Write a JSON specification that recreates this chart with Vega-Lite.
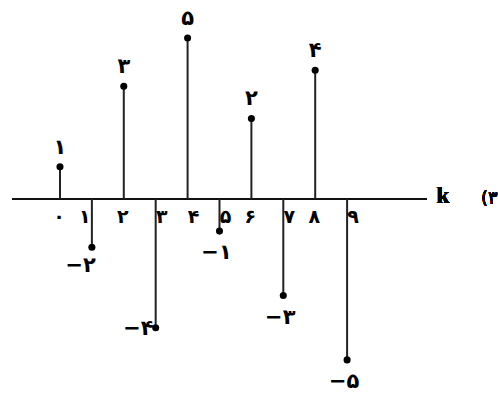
{
  "$schema": "https://vega.github.io/schema/vega-lite/v6.json",
  "width": 498,
  "height": 394,
  "padding": 0,
  "autosize": {"type": "fit", "contains": "padding"},
  "background": "white",
  "config": {"view": {"stroke": null}},
  "data": {
    "values": [
      {"k": 0, "height": 1, "label": "۱", "tick": "۰"},
      {"k": 1, "height": -1.5, "label": "−۲", "tick": "۱"},
      {"k": 2, "height": 3.5, "label": "۳", "tick": "۲"},
      {"k": 3, "height": -4, "label": "−۴", "tick": "۳"},
      {"k": 4, "height": 5, "label": "۵", "tick": "۴"},
      {"k": 5, "height": -1, "label": "−۱", "tick": "۵"},
      {"k": 6, "height": 2.5, "label": "۲", "tick": "۶"},
      {"k": 7, "height": -3, "label": "−۳", "tick": "۷"},
      {"k": 8, "height": 4, "label": "۴", "tick": "۸"},
      {"k": 9, "height": -5, "label": "−۵", "tick": "۹"}
    ]
  },
  "layer": [
    {
      "mark": {"type": "rule", "color": "#111", "strokeWidth": 2},
      "encoding": {
        "x": {"datum": -1.5, "type": "quantitative", "scale": {"domain": [-1.88, 13.73], "nice": false, "zero": false}, "axis": null},
        "x2": {"datum": 11.5},
        "y": {"datum": 0, "type": "quantitative", "scale": {"domain": [-6.06, 6.18], "nice": false, "zero": false}, "axis": null}
      }
    },
    {
      "mark": {"type": "rule", "color": "#222", "strokeWidth": 2},
      "encoding": {
        "x": {"field": "k", "type": "quantitative", "scale": {"domain": [-1.88, 13.73], "nice": false, "zero": false}, "axis": null},
        "y": {"field": "height", "type": "quantitative", "scale": {"domain": [-6.06, 6.18], "nice": false, "zero": false}, "axis": null},
        "y2": {"datum": 0}
      }
    },
    {
      "mark": {"type": "circle", "color": "#000", "opacity": 1, "size": 50},
      "encoding": {
        "x": {"field": "k", "type": "quantitative", "scale": {"domain": [-1.88, 13.73], "nice": false, "zero": false}, "axis": null},
        "y": {"field": "height", "type": "quantitative", "scale": {"domain": [-6.06, 6.18], "nice": false, "zero": false}, "axis": null}
      }
    },
    {
      "transform": [{"filter": "datum.height > 0"}],
      "mark": {"type": "text", "font": "DejaVu Sans", "fontSize": 21, "fontWeight": "bold", "color": "#000", "baseline": "middle", "align": "center", "dy": -19},
      "encoding": {
        "x": {"field": "k", "type": "quantitative", "scale": {"domain": [-1.88, 13.73], "nice": false, "zero": false}, "axis": null},
        "y": {"field": "height", "type": "quantitative", "scale": {"domain": [-6.06, 6.18], "nice": false, "zero": false}, "axis": null},
        "text": {"field": "label"}
      }
    },
    {
      "transform": [{"filter": "datum.k == 1"}],
      "mark": {"type": "text", "font": "DejaVu Sans", "fontSize": 21, "fontWeight": "bold", "color": "#000", "baseline": "middle", "align": "right", "dx": 4, "dy": 19},
      "encoding": {
        "x": {"field": "k", "type": "quantitative", "scale": {"domain": [-1.88, 13.73], "nice": false, "zero": false}, "axis": null},
        "y": {"field": "height", "type": "quantitative", "scale": {"domain": [-6.06, 6.18], "nice": false, "zero": false}, "axis": null},
        "text": {"field": "label"}
      }
    },
    {
      "transform": [{"filter": "datum.k == 3"}],
      "mark": {"type": "text", "font": "DejaVu Sans", "fontSize": 21, "fontWeight": "bold", "color": "#000", "baseline": "middle", "align": "right", "dx": -2, "dy": 1},
      "encoding": {
        "x": {"field": "k", "type": "quantitative", "scale": {"domain": [-1.88, 13.73], "nice": false, "zero": false}, "axis": null},
        "y": {"field": "height", "type": "quantitative", "scale": {"domain": [-6.06, 6.18], "nice": false, "zero": false}, "axis": null},
        "text": {"field": "label"}
      }
    },
    {
      "transform": [{"filter": "datum.k == 5 || datum.k == 7 || datum.k == 9"}],
      "mark": {"type": "text", "font": "DejaVu Sans", "fontSize": 21, "fontWeight": "bold", "color": "#000", "baseline": "middle", "align": "center", "dx": -3, "dy": 22},
      "encoding": {
        "x": {"field": "k", "type": "quantitative", "scale": {"domain": [-1.88, 13.73], "nice": false, "zero": false}, "axis": null},
        "y": {"field": "height", "type": "quantitative", "scale": {"domain": [-6.06, 6.18], "nice": false, "zero": false}, "axis": null},
        "text": {"field": "label"}
      }
    },
    {
      "transform": [{"filter": "datum.k == 0 || datum.k == 2 || datum.k == 6 || datum.k == 8"}],
      "mark": {"type": "text", "font": "DejaVu Sans", "fontSize": 19, "fontWeight": "bold", "color": "#000", "baseline": "middle", "align": "center", "dx": -1, "dy": 18},
      "encoding": {
        "x": {"field": "k", "type": "quantitative", "scale": {"domain": [-1.88, 13.73], "nice": false, "zero": false}, "axis": null},
        "y": {"datum": 0, "type": "quantitative", "scale": {"domain": [-6.06, 6.18], "nice": false, "zero": false}, "axis": null},
        "text": {"field": "tick"}
      }
    },
    {
      "transform": [{"filter": "datum.k == 1"}],
      "mark": {"type": "text", "font": "DejaVu Sans", "fontSize": 19, "fontWeight": "bold", "color": "#000", "baseline": "middle", "align": "center", "dx": -7, "dy": 18},
      "encoding": {
        "x": {"field": "k", "type": "quantitative", "scale": {"domain": [-1.88, 13.73], "nice": false, "zero": false}, "axis": null},
        "y": {"datum": 0, "type": "quantitative", "scale": {"domain": [-6.06, 6.18], "nice": false, "zero": false}, "axis": null},
        "text": {"field": "tick"}
      }
    },
    {
      "transform": [{"filter": "datum.k == 3 || datum.k == 4 || datum.k == 5 || datum.k == 7 || datum.k == 9"}],
      "mark": {"type": "text", "font": "DejaVu Sans", "fontSize": 19, "fontWeight": "bold", "color": "#000", "baseline": "middle", "align": "center", "dx": 6, "dy": 18},
      "encoding": {
        "x": {"field": "k", "type": "quantitative", "scale": {"domain": [-1.88, 13.73], "nice": false, "zero": false}, "axis": null},
        "y": {"datum": 0, "type": "quantitative", "scale": {"domain": [-6.06, 6.18], "nice": false, "zero": false}, "axis": null},
        "text": {"field": "tick"}
      }
    },
    {
      "mark": {"type": "text", "font": "Liberation Serif", "fontSize": 23, "fontWeight": "bold", "color": "#000", "baseline": "middle", "align": "center", "dy": -3},
      "encoding": {
        "x": {"datum": 12, "type": "quantitative", "scale": {"domain": [-1.88, 13.73], "nice": false, "zero": false}, "axis": null},
        "y": {"datum": 0, "type": "quantitative", "scale": {"domain": [-6.06, 6.18], "nice": false, "zero": false}, "axis": null},
        "text": {"value": "k"}
      }
    },
    {
      "mark": {"type": "text", "font": "DejaVu Sans", "fontSize": 18, "color": "#000", "baseline": "middle", "align": "left", "dy": 0},
      "encoding": {
        "x": {"datum": 13.2, "type": "quantitative", "scale": {"domain": [-1.88, 13.73], "nice": false, "zero": false}, "axis": null},
        "y": {"datum": 0, "type": "quantitative", "scale": {"domain": [-6.06, 6.18], "nice": false, "zero": false}, "axis": null},
        "text": {"value": "(۳"}
      }
    }
  ]
}
